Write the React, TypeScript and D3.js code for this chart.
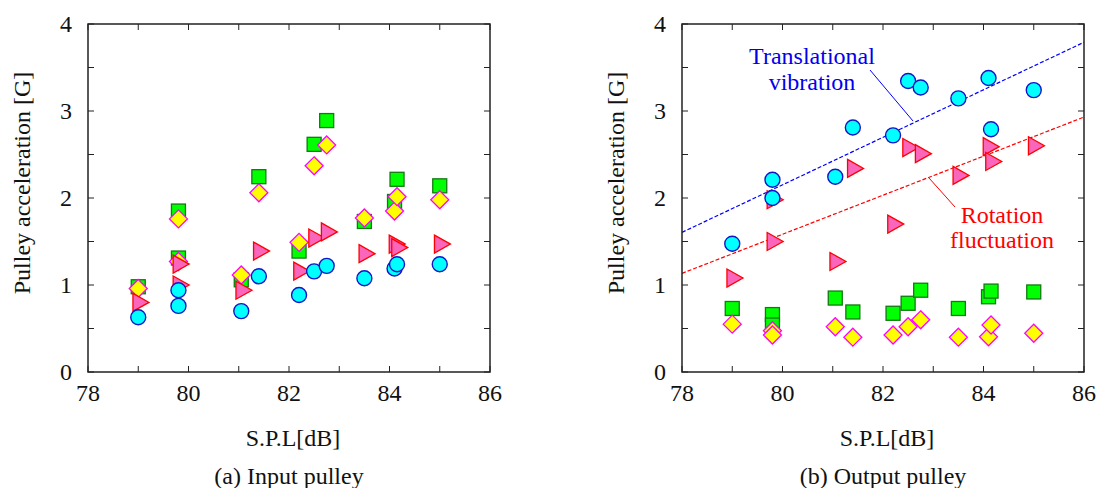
import React from "react";
import * as d3 from "d3";

// S.P.L [dB] of the twelve measurements
const spl = [79.0, 79.8, 79.8, 81.05, 81.4, 82.2, 82.5, 82.75, 83.5, 84.1, 84.15, 85.0];

// (a) Input pulley
const inSquare = [0.98, 1.85, 1.31, 1.06, 2.245, 1.39, 2.617, 2.89, 1.73, 1.96, 2.215, 2.14];
const inDiamond = [0.96, 1.76, 1.27, 1.115, 2.06, 1.49, 2.37, 2.61, 1.77, 1.85, 2.015, 1.98];
const inTriangle = [0.8, 1.0, 1.24, 0.94, 1.39, 1.16, 1.54, 1.61, 1.36, 1.47, 1.43, 1.47];
const inCircle = [0.63, 0.76, 0.94, 0.7, 1.1, 0.885, 1.157, 1.22, 1.077, 1.19, 1.238, 1.238];

// (b) Output pulley
const outSquare = [0.73, 0.66, 0.54, 0.85, 0.69, 0.675, 0.79, 0.94, 0.73, 0.865, 0.93, 0.92];
const outDiamond = [0.55, 0.475, 0.425, 0.52, 0.4, 0.425, 0.52, 0.6, 0.4, 0.405, 0.54, 0.445];
const outTriangle = [1.08, 1.98, 1.5, 1.27, 2.34, 1.7, 2.58, 2.51, 2.26, 2.59, 2.42, 2.6];
const outCircle = [1.475, 2.21, 2.0, 2.245, 2.81, 2.72, 3.345, 3.27, 3.145, 3.38, 2.79, 3.24];

// trend lines (output pulley)
const trendX = [78, 86];
const trendTranslational = [1.605, 3.79];
const trendRotation = [1.134, 2.93];

const xTicks = [78, 79, 80, 81, 82, 83, 84, 85, 86];
const xLabels = [78, 80, 82, 84, 86];
const yTicks = [0, 0.5, 1, 1.5, 2, 2.5, 3, 3.5, 4];
const yLabels = [0, 1, 2, 3, 4];

const FONT = "'Liberation Serif', Tinos, 'Times New Roman', 'DejaVu Serif', serif";
const txt: React.CSSProperties = { fontFamily: FONT, fontSize: "24px" };

type PanelProps = {
  left: number;
  right: number;
  squares: number[];
  diamonds: number[];
  triangles: number[];
  circles: number[];
  caption: string;
  children?: (x: d3.ScaleLinear<number, number>, y: d3.ScaleLinear<number, number>) => React.ReactNode;
};

const TOP = 24;
const BOTTOM = 372;

function Panel({ left, right, squares, diamonds, triangles, circles, caption, children }: PanelProps) {
  const x = d3.scaleLinear().domain([78, 86]).range([left, right]);
  const y = d3.scaleLinear().domain([0, 4]).range([BOTTOM, TOP]);
  const tl = 6;
  const cx = (left + right) / 2;
  return (
    <g>
      {children ? children(x, y) : null}
      {xTicks.map((t) => (
        <g key={"xt" + t}>
          <line x1={x(t)} x2={x(t)} y1={BOTTOM} y2={BOTTOM - tl} stroke="#222" strokeWidth={1} />
          <line x1={x(t)} x2={x(t)} y1={TOP} y2={TOP + tl} stroke="#222" strokeWidth={1} />
        </g>
      ))}
      {yTicks.map((t) => (
        <g key={"yt" + t}>
          <line x1={left} x2={left + tl} y1={y(t)} y2={y(t)} stroke="#222" strokeWidth={1} />
          <line x1={right} x2={right - tl} y1={y(t)} y2={y(t)} stroke="#222" strokeWidth={1} />
        </g>
      ))}
      <rect x={left} y={TOP} width={right - left} height={BOTTOM - TOP} fill="none" stroke="#222" strokeWidth={1.5} />
      {xLabels.map((t) => (
        <text key={"xl" + t} x={x(t)} y={401} textAnchor="middle" style={txt} fill="#111">
          {t}
        </text>
      ))}
      {yLabels.map((t) => (
        <text key={"yl" + t} x={left - 22} y={y(t)} dy="0.34em" textAnchor="middle" style={txt} fill="#111">
          {t}
        </text>
      ))}
      <text x={cx + 4} y={446} textAnchor="middle" style={txt} fill="#111">
        S.P.L[dB]
      </text>
      <text x={cx} y={484} textAnchor="middle" style={txt} fill="#111">
        {caption}
      </text>
      <text
        transform={`translate(${left - 58},${(TOP + BOTTOM) / 2 - 15}) rotate(-90)`}
        textAnchor="middle"
        style={txt}
        fill="#111"
      >
        Pulley acceleration [G]
      </text>
      {squares.map((v, i) => (
        <rect key={"s" + i} x={x(spl[i]) - 7} y={y(v) - 7} width={14} height={14} fill="#00ff00" stroke="#127a12" strokeWidth={1.3} />
      ))}
      {diamonds.map((v, i) => {
        const px = x(spl[i]);
        const py = y(v);
        const r = 9;
        return (
          <path key={"d" + i} d={`M${px},${py - r}L${px + r},${py}L${px},${py + r}L${px - r},${py}Z`} fill="#ffff00" stroke="#ff00ff" strokeWidth={1.3} />
        );
      })}
      {triangles.map((v, i) => {
        const px = x(spl[i]);
        const py = y(v);
        return (
          <path key={"t" + i} d={`M${px - 5.3},${py - 9}L${px + 10.7},${py}L${px - 5.3},${py + 9}Z`} fill="#f966bb" stroke="#ff0000" strokeWidth={1.3} />
        );
      })}
      {circles.map((v, i) => (
        <circle key={"c" + i} cx={x(spl[i])} cy={y(v)} r={7.5} fill="#00ffff" stroke="#1414c8" strokeWidth={1.4} />
      ))}
    </g>
  );
}

export default function App() {
  return (
    <svg width={1100} height={488} style={{ position: "absolute", left: 0, top: 0, background: "#fff" }}>
      <rect x={0} y={0} width={1100} height={488} fill="#fff" />
      <Panel left={88} right={490} squares={inSquare} diamonds={inDiamond} triangles={inTriangle} circles={inCircle} caption="(a) Input pulley" />
      <Panel
        left={682}
        right={1084}
        squares={outSquare}
        diamonds={outDiamond}
        triangles={outTriangle}
        circles={outCircle}
        caption="(b) Output pulley"
      >
        {(x, y) => {
          const line = d3
            .line<number>()
            .x((_, i) => x(trendX[i]))
            .y((d) => y(d));
          return (
            <g>
              <path d={line(trendTranslational) || ""} fill="none" stroke="#0000ff" strokeWidth={1.2} strokeDasharray="4,2" />
              <path d={line(trendRotation) || ""} fill="none" stroke="#ff0000" strokeWidth={1.2} strokeDasharray="4,2" />
              <line x1={870} y1={70} x2={913} y2={121} stroke="#0000ff" strokeWidth={1} />
              <line x1={929} y1={178} x2={955} y2={207} stroke="#ff0000" strokeWidth={1} />
              <text x={812} y={64} textAnchor="middle" style={txt} fill="#0000ee">
                Translational
              </text>
              <text x={812} y={90} textAnchor="middle" style={txt} fill="#0000ee">
                vibration
              </text>
              <text x={1002} y={223} textAnchor="middle" style={txt} fill="#ff0000">
                Rotation
              </text>
              <text x={1002} y={248} textAnchor="middle" style={txt} fill="#ff0000">
                fluctuation
              </text>
            </g>
          );
        }}
      </Panel>
    </svg>
  );
}
